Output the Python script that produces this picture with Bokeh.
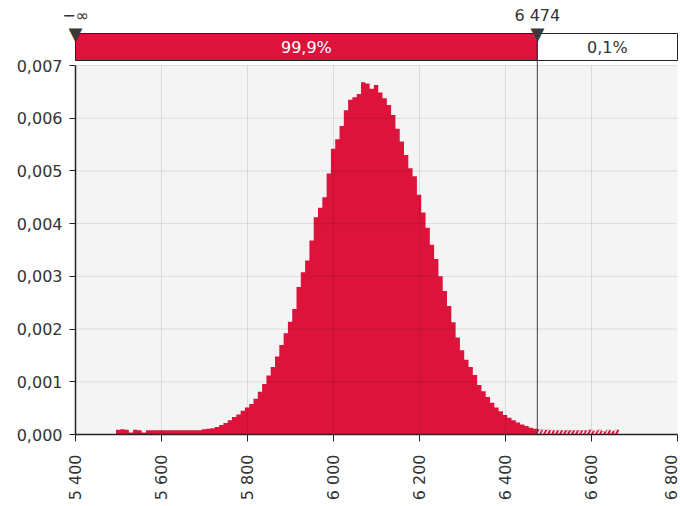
import math
from bokeh.plotting import figure
from bokeh.models import Range1d, FixedTicker, ColumnDataSource, CustomJSTickFormatter, Label
from bokeh.embed import file_html
from bokeh.resources import INLINE

# ---------------- data ----------------
BIN_START = 5494
BIN_WIDTH = 10
# density per bin, in units of 1e-3
DENSITY_E3 = [
    0.09, 0.10, 0.09, 0.04, 0.09, 0.08, 0.04, 0.08, 0.08, 0.08,
    0.08, 0.08, 0.08, 0.08, 0.08, 0.08, 0.08, 0.08, 0.08, 0.08,
    0.10, 0.11, 0.12, 0.14, 0.18, 0.22, 0.27, 0.33, 0.38, 0.45,
    0.51, 0.58, 0.68, 0.81, 0.96, 1.12, 1.28, 1.48, 1.70, 1.92,
    2.14, 2.38, 2.80, 3.08, 3.30, 3.68, 4.12, 4.30, 4.50, 4.95,
    5.42, 5.60, 5.85, 6.15, 6.35, 6.40, 6.46, 6.68, 6.66, 6.56,
    6.63, 6.49, 6.38, 6.25, 6.06, 5.80, 5.56, 5.30, 5.05, 4.90,
    4.55, 4.21, 3.92, 3.60, 3.33, 3.00, 2.72, 2.44, 2.13, 1.84,
    1.60, 1.42, 1.28, 1.13, 0.94, 0.82, 0.71, 0.60, 0.51, 0.44,
    0.37, 0.32, 0.27, 0.23, 0.19, 0.16, 0.13, 0.11,
    # beyond the cut value
    0.10, 0.09, 0.09, 0.08, 0.08, 0.08, 0.08, 0.08, 0.08, 0.08,
    0.08, 0.08, 0.09, 0.07, 0.09, 0.06, 0.09, 0.07, 0.09,
]
CUT = 6474
LEFT_LABEL = "−∞"
CUT_LABEL = "6 474"
SHARE_LEFT = "99,9%"
SHARE_RIGHT = "0,1%"

X_TICKS = [5400, 5600, 5800, 6000, 6200, 6400, 6600, 6800]
X_TICK_LABELS = ["5 400", "5 600", "5 800", "6 000", "6 200", "6 400", "6 600", "6 800"]
Y_TICKS = [0.000, 0.001, 0.002, 0.003, 0.004, 0.005, 0.006, 0.007]
Y_TICK_LABELS = ["0,000", "0,001", "0,002", "0,003", "0,004", "0,005", "0,006", "0,007"]

# ---------------- layout / style ----------------
RED = "#DC143C"
TEXT = "#333333"
FONT = "DejaVu Sans"
FS = "16px"
FIG_W, FIG_H = 680, 506
AXIS_X_PX, RIGHT_PX = 75, 677      # pixel columns of the data area
TOP_PX, AXIS_Y_PX = 65, 434        # pixel rows of the data area
BAR_BOTTOM = 0.007095
BAR_TOP = 0.007607
BAR_TEXT_Y = 0.00735
TRI_Y = 0.00760
LABEL_Y = 0.00795

x0, x1 = X_TICKS[0], X_TICKS[-1]
y0, y1 = Y_TICKS[0], Y_TICKS[-1]
ux = (x1 - x0) / (RIGHT_PX - AXIS_X_PX)
uy = (y1 - y0) / (AXIS_Y_PX - TOP_PX)
x_range = Range1d(x0 - AXIS_X_PX * ux, x1 + (FIG_W - RIGHT_PX) * ux)
y_range = Range1d(y0 - (FIG_H - AXIS_Y_PX) * uy, y0 + AXIS_Y_PX * uy)

p = figure(width=FIG_W, height=FIG_H, x_range=x_range, y_range=y_range,
           output_backend="svg", toolbar_location=None,
           min_border=0, min_border_left=0, min_border_right=0,
           min_border_top=0, min_border_bottom=0,
           background_fill_color="white", border_fill_color="white",
           outline_line_color=None)
p.xgrid.visible = False
p.ygrid.visible = False

# plot area background
p.quad(left=[x0], right=[x1], bottom=[y0], top=[y1], fill_color="#f4f4f4", line_color=None)

# histogram
lefts = [BIN_START + i * BIN_WIDTH for i in range(len(DENSITY_E3))]
tops = [v * 1e-3 for v in DENSITY_E3]
inside = [i for i, l in enumerate(lefts) if l < CUT]
outside = [i for i, l in enumerate(lefts) if l >= CUT]

step_x = [lefts[i] for i in inside] + [lefts[inside[-1]] + BIN_WIDTH]
step_y = [tops[i] for i in inside] + [tops[inside[-1]]]
p.varea_step(x=step_x, y1=[0] * len(step_x), y2=step_y, step_mode="after", fill_color=RED)

src_out = ColumnDataSource(dict(left=[lefts[i] for i in outside],
                                right=[lefts[i] + BIN_WIDTH for i in outside],
                                top=[tops[i] for i in outside]))
p.quad(left="left", right="right", top="top", bottom=0, source=src_out,
       fill_color=RED, line_color=None,
       hatch_pattern="/", hatch_color="white", hatch_scale=8, hatch_weight=1.5)

# grid lines drawn over the bars
gx = X_TICKS[1:-1]
p.segment(x0=gx, x1=gx, y0=[y0] * len(gx), y1=[y1] * len(gx),
          line_color="black", line_alpha=0.1, line_width=1)
gy = Y_TICKS[1:]
p.segment(x0=[x0] * len(gy), x1=[x1] * len(gy), y0=gy, y1=gy,
          line_color="black", line_alpha=0.1, line_width=1)

# cut line
p.segment(x0=[CUT], x1=[CUT], y0=[y0], y1=[BAR_BOTTOM], line_color="#404040", line_width=1)

# top bar
p.quad(left=[x0], right=[CUT], bottom=[BAR_BOTTOM], top=[BAR_TOP],
       fill_color=RED, line_color="#222222", line_width=1)
p.quad(left=[CUT], right=[x1], bottom=[BAR_BOTTOM], top=[BAR_TOP],
       fill_color="white", line_color="#222222", line_width=1)

def lab(x, y, text, color=TEXT, size=FS):
    p.add_layout(Label(x=x, y=y, text=text, text_align="center", text_baseline="middle",
                       text_font=FONT, text_font_size=size, text_color=color))

lab((x0 + CUT) / 2, BAR_TEXT_Y, SHARE_LEFT, color="white")
lab((CUT + x1) / 2, BAR_TEXT_Y, SHARE_RIGHT)
lab(x0, LABEL_Y, LEFT_LABEL)
lab(CUT, LABEL_Y, CUT_LABEL)
lab(x0, TRI_Y, "▼", color="#3a3a3a", size="18px")
lab(CUT, TRI_Y, "▼", color="#3a3a3a", size="18px")

FMT = """
for (let i = 0; i < tks.length; i++) { if (Math.abs(tick - tks[i]) < eps) return lbls[i]; }
return '';"""

# axes
xa = p.xaxis[0]
xa.fixed_location = y0
xa.ticker = FixedTicker(ticks=X_TICKS)
xa.formatter = CustomJSTickFormatter(args=dict(tks=X_TICKS, lbls=X_TICK_LABELS, eps=1e-6), code=FMT)
xa.major_label_orientation = math.pi / 2
xa.major_label_text_font = FONT
xa.major_label_text_font_size = FS
xa.major_label_text_color = TEXT
xa.major_label_standoff = 13
xa.major_tick_out = 7
xa.major_tick_in = 0
xa.minor_tick_out = 0
xa.minor_tick_in = 0
xa.axis_line_color = "#222222"
xa.axis_line_width = 1.5
xa.major_tick_line_color = "#222222"
xa.bounds = (x0, x1)

ya = p.yaxis[0]
ya.fixed_location = x0
ya.ticker = FixedTicker(ticks=Y_TICKS)
ya.formatter = CustomJSTickFormatter(args=dict(tks=Y_TICKS, lbls=Y_TICK_LABELS, eps=1e-9), code=FMT)
ya.major_label_text_font = FONT
ya.major_label_text_font_size = FS
ya.major_label_text_color = TEXT
ya.major_label_standoff = 7
ya.major_tick_out = 6
ya.major_tick_in = 0
ya.minor_tick_out = 0
ya.minor_tick_in = 0
ya.axis_line_color = "#222222"
ya.axis_line_width = 1.5
ya.major_tick_line_color = "#222222"
ya.bounds = (y0, y1)

open("out.html", "w").write(file_html(p, INLINE))
